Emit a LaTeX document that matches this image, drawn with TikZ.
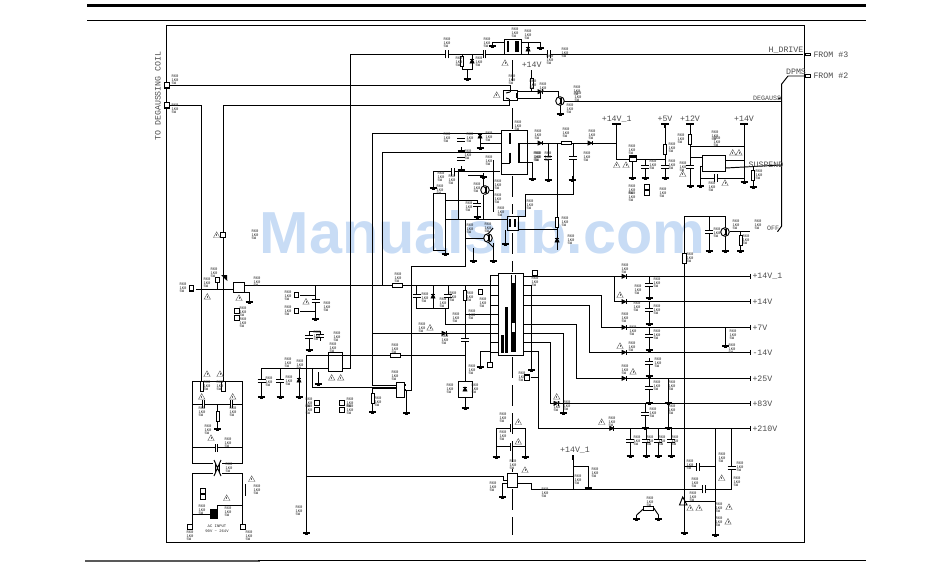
\documentclass[tikz,border=0pt]{standalone}
\usepackage{fontspec}
\setmainfont{Liberation Sans}
\setmonofont{Liberation Mono}
\tikzset{every picture/.style={line width=0.75pt}}
\definecolor{markblue}{RGB}{200,220,245}
\tikzset{
	wire/.style={line width=0.72pt,line join=miter},
	tag/.style={font=\ttfamily\fontsize{2.9}{2.7}\selectfont,align=left,inner sep=0pt,text=black!85},
	lab/.style={font=\ttfamily\fontsize{6.2}{7}\selectfont,inner sep=0pt,text=black!70},
	gndsym/.pic={\draw[line width=0.7pt] (0,4) -- (0,0); \draw[line width=0.9pt] (-3.5,0) -- (3.5,0); \draw[line width=0.5pt] (-1.5,-1.5) -- (1.5,-1.5);},
	capv/.pic={\fill[white] (-3,-1) rectangle (3,1); \draw[line width=0.7pt] (-4,-1.2) -- (4,-1.2) (-4,1.2) -- (4,1.2);},
	caph/.pic={\fill[white] (-1,-3) rectangle (1,3); \draw[line width=0.7pt] (-1.2,-4) -- (-1.2,4) (1.2,-4) -- (1.2,4);},
	diodeh/.pic={\draw[fill=black,line width=0.5pt] (-2,-2) -- (2,0) -- (-2,2) -- cycle; \draw[line width=0.7pt] (2,-2.3) -- (2,2.3);},
	diodev/.pic={\draw[fill=black,line width=0.5pt] (-2,-2) -- (0,2) -- (2,-2) -- cycle; \draw[line width=0.7pt] (-2.3,2) -- (2.3,2);},
	resh/.pic={\draw[fill=white,line width=0.6pt] (-5,-1.7) rectangle (5,1.7);},
	resv/.pic={\draw[fill=white,line width=0.6pt] (-1.7,-5) rectangle (1.7,5);},
	connbox/.pic={\draw[fill=white,line width=0.8pt] (-2.2,-2.7) rectangle (2.2,2.7);},
	warnsym/.pic={\draw[line width=0.35pt,draw=black!60] (-3.2,-2.5) -- (0,3.2) -- (3.2,-2.5) -- cycle; \draw[line width=0.35pt,draw=black!60] (0,1) -- (0,-1);},
	transsym/.pic={\draw[fill=white,line width=0.7pt] (0,0) circle (4.3); \draw[line width=0.9pt] (1,-3) -- (1,3); \draw[line width=0.5pt] (1,-1) -- (-2,-4) (1,1) -- (-2,4);}
}

\begin{document}
\begin{tikzpicture}[x=0.75pt,y=0.75pt,yscale=-1]
	\useasboundingbox (0,0) rectangle (950,572);

	% Text Node
	\draw (482.5,232) node (mark) [text=markblue,font=\bfseries\fontsize{44.5}{46}\selectfont,inner sep=0pt] {Manualslib.com};

	%Page rules
	\fill (87,4) rectangle (866,7);
	\draw [line width=0.6pt] (87,20.3) -- (866,20.3);
	\fill [black!65] (85,559.7) rectangle (260,561.7);
	\draw [line width=0.9pt] (258,560.3) -- (866,560.3);
	%Frame
	\draw [wire] (166.3,25) rectangle (804,542.8);

	%Dashed isolation line
	\draw [wire,dash pattern=on 16pt off 5pt] (512.5,60) -- (512.5,88);
	\draw [wire,dash pattern=on 16pt off 5pt] (512.5,108) -- (512.5,130);
	\draw [wire,dash pattern=on 16pt off 5pt] (512.5,176) -- (512.5,214);
	\draw [wire,dash pattern=on 16pt off 5pt] (512.5,233) -- (512.5,272);
	\draw [wire,dash pattern=on 16pt off 5pt] (512.5,357) -- (512.5,472);
	\draw [wire,dash pattern=on 16pt off 5pt] (512.5,489) -- (512.5,535);

	%Degauss and left supply lines
	\draw [wire] (168,85.3) -- (510,85.3) -- (510,92);
	\draw [wire] (169,105.3) -- (201.7,105.3) -- (201.7,381);
	\draw [wire] (509,99) -- (509,105.3) -- (223.3,105.3) -- (223.3,381);
	\draw [wire] (196,289) -- (233.3,289);
	\draw [wire] (244.3,285.3) -- (490,285.3);
	\draw [wire] (245,292) -- (249,292) -- (249,298);
	%Long risers
	\draw [wire] (342,368) -- (350,368) -- (350,54.4) -- (504,54.4);
	\draw [wire] (396,385) -- (372.8,385) -- (372.8,133.3) -- (501,133.3);
	\draw [wire] (396,388) -- (372.8,388) -- (372.8,408);
	\draw [wire] (382.3,285.3) -- (382.3,152.7) -- (501,152.7);
	\draw [wire] (404,390) -- (411,390) -- (411,266.7) -- (465,266.7) -- (465,219);
	\draw [wire] (372.8,333.3) -- (490,333.3);
	%Startup IC and bulk
	\draw [wire] (306.7,529) -- (306.7,355.3) -- (465,355.3);
	\draw [wire] (261.7,368) -- (328,368);
	\draw [wire] (261.7,368) -- (261.7,393);
	\draw [wire] (280,368) -- (280,393);
	\draw [wire] (299,368) -- (299,393);
	\draw [wire] (312.3,368) -- (312.3,387.3) -- (396,387.3);
	\draw [wire] (318,372) -- (318,380);
	\draw [wire] (309,346) -- (309,331) -- (320,331) -- (320,341);
	\draw [wire] (306.7,476) -- (503,476) -- (503,480) -- (507.3,480);
	\draw [wire] (406.7,390) -- (406.7,409);
	\draw [wire] (300,295) -- (315.7,295);
	\draw [wire] (300,311) -- (315.7,311);
	\draw [wire] (315.7,285.3) -- (315.7,315);
	%AC input section
	\draw [wire] (192,463) -- (192,381) -- (242.7,381) -- (242.7,463) -- (222,463);
	\draw [wire] (192,463) -- (213,463);
	\draw [wire] (192,404) -- (242.7,404);
	\draw [wire] (192,447.7) -- (242.7,447.7);
	\draw [wire] (217.7,404) -- (217.7,425);
	\draw [wire] (192,524) -- (192,473) -- (213,473);
	\draw [wire] (242.7,524) -- (242.7,473) -- (222,473);
	\draw [wire] (192,514.3) -- (212,514.3);
	\draw [wire] (217,514) -- (217,505) -- (242.7,505);
	\draw [wire] (214,460) -- (221,476) (221,460) -- (214,476);
	\draw [wire] (215.7,463) -- (215.7,473) (219.3,463) -- (219.3,473);
	\fill (210,509) rectangle (218,519);
	\draw [wire] (245,484) -- (245,496);
	%Cap rows around the main transformer
	\draw [wire] (416.7,285.3) -- (416.7,308) -- (448,308) -- (448,285.3);
	\draw [wire] (433,285.3) -- (433,308);
	\draw [wire] (465,285.3) -- (465,381);
	\draw [wire] (445,324) -- (490,324);
	\draw [wire] (445,308) -- (445,324);
	\draw [wire] (465,314) -- (498,314);
	\draw [wire] (480,351.7) -- (490,351.7);
	\draw [wire] (480,351.7) -- (480,363);
	\draw [wire] (490,351.7) -- (490,362);
	\draw [wire] (458,381) rectangle (472,397.3);
	\draw [wire] (465,397.3) -- (465,404);
	%Main transformer
	\draw [wire] (490,275) -- (490,351.7);
	\draw [wire] (490,275) -- (498.3,275);
	\draw [wire] (498.3,273.3) rectangle (523.3,355);
	\draw [wire] (511.7,275) -- (511.7,352) (515,275) -- (515,352);
	\draw [line width=1.9pt] (513.6,283) -- (513.6,323);
	\draw [line width=1.9pt] (513.6,332) -- (513.6,352);
	\draw [line width=1.9pt] (506.7,307) -- (506.7,353);
	\draw [line width=1.9pt] (502.5,335) -- (502.5,353);
	\foreach \y in {285,295,305,314,324,333,342,352} \draw [line width=0.6pt] (490,\y) -- (498.3,\y);
	\draw [wire] (523.3,285) -- (531.7,285) -- (531.7,366);
	%Secondary rails
	\draw [wire] (523.3,276.3) -- (750,276.3);
	\draw [wire] (614,276.3) -- (614,301.7) -- (750,301.7);
	\draw [wire] (523.3,295) -- (601.7,295) -- (601.7,327.3) -- (750,327.3);
	\draw [wire] (523.3,305) -- (589,305) -- (589,352.3) -- (750,352.3);
	\draw [wire] (523.3,324.3) -- (576.7,324.3) -- (576.7,378.3) -- (750,378.3);
	\draw [wire] (523.3,342.7) -- (550.7,342.7) -- (550.7,403.3) -- (750,403.3);
	\draw [wire] (523.3,333.3) -- (563.3,333.3) -- (563.3,409);
	\draw [wire] (523.3,351.7) -- (538.3,351.7) -- (538.3,428.3) -- (750,428.3);
	\draw [wire] (530.7,377.7) -- (538.3,377.7);
	\draw [wire] (535,275) -- (535,276.3);
	\foreach \x/\y in {750/276.3,750/301.7,750/327.3,750/352.3,750/378.3,750/403.3,750/428.3} \draw [line width=0.6pt] (\x,\y-2.5) -- (\x,\y+2.5);
	\fill (744,377.5) rectangle (750,379);
	\foreach \x/\yy/\ye in {649/276.3/294,649/301.7/320,649/327.3/346,649/358/372,649/378.3/399,668/378.3/399,645/403.3/424,668/403.3/424,630/428.3/452,646/428.3/452,658/428.3/452,671/428.3/452} \draw [wire] (\x,\yy) -- (\x,\ye);
	\draw [wire] (725.7,327.3) -- (725.7,342);
	%Output right column
	\draw [wire] (684.3,216.7) -- (684.3,529);
	\draw [wire] (715.7,428.3) -- (715.7,531);
	\draw [wire] (731.7,428.3) -- (731.7,489.3) -- (531.7,489.3) -- (531.7,483) -- (517.7,483);
	\draw [wire] (684.3,466.7) -- (715.7,466.7);
	\draw [wire] (684.3,501.7) -- (715.7,501.7);
	\draw [wire] (679.5,505) -- (682.7,497) -- (687,505) -- cycle;
	%+14V lower
	\draw [wire] (517.7,476) -- (573.3,476);
	\draw [line width=1.5pt] (573.3,455) -- (573.3,460);
	\draw [wire] (573.3,460) -- (573.3,489.3);
	\draw [wire] (573.3,466) -- (588,466) -- (588,484);
	\draw [wire] (507.3,473.3) rectangle (517.7,487.3);
	\draw [wire] (502.7,483) -- (507.3,483) (502.7,483) -- (502.7,493);
	\draw [wire] (496,453) -- (496,428.3) -- (525,428.3) -- (525,453);
	\draw [wire] (496,446.7) -- (525,446.7);
	\draw [wire] (636.7,515) -- (644,508.3) -- (654,508.3) -- (658.5,515);
	%H drive
	\draw [wire] (504,39) rectangle (521,54.4);
	\draw [line width=1.3pt] (508.3,41) -- (508.3,52);
	\draw [line width=1.3pt] (515.7,41) -- (515.7,52) (518.3,41) -- (518.3,52);
	\draw [wire] (504,42) -- (492,42);
	\draw [wire] (521,42.7) -- (540,42.7) -- (540,45);
	\draw [wire] (528,42.7) -- (528,54.4);
	\draw [wire] (521,54.4) -- (803,54.4);
	\draw [wire] (462,54.4) -- (462,69) -- (472,69) -- (472,54.4);
	\draw [wire] (467,69) -- (467,75);
	\draw [line width=0.6pt] (805,53) rectangle (810,55.6);
	\draw [line width=0.6pt] (805,74.7) rectangle (810,77.3);
	\draw [wire] (788,76) -- (804,76) (788,76) -- (781.7,84) -- (781.7,226) -- (777.5,231.7);
	%Opto and degauss driver
	\draw [wire] (503,90) rectangle (517,100.7);
	\draw [line width=1.3pt] (517,93) -- (517,98);
	\draw [wire] (506,93) -- (510,92) (506,98) -- (509,99);
	\draw [wire] (531.7,70) -- (531.7,91.7);
	\draw [wire] (517,91.7) -- (558,91.7) -- (558,97);
	\draw [wire] (518,98) -- (540,98) -- (540,91.7);
	\draw [wire] (564,101) -- (781.7,101);
	\draw [wire] (778,99) -- (781.7,97.5);
	\draw [wire] (560,105) -- (560,110);
	%Standby transformer
	\draw [wire] (501,130) rectangle (527,174);
	\draw [line width=1.9pt] (510,133) -- (510,144) (510,152.7) -- (510,163);
	\draw [line width=1.9pt] (519,143) -- (519,162.5);
	\draw [wire] (501,143.3) -- (480,143.3) -- (480,145);
	\draw [wire] (480,133.3) -- (480,143);
	\draw [wire] (501,163) -- (510,163);
	\draw [wire] (519,143) -- (616.7,143) -- (616.7,124);
	\draw [wire] (616.7,143) -- (616.7,159.3) -- (629,159.3);
	\draw [wire] (519,162.5) -- (532,162.5) -- (532,175);
	\draw [wire] (548,143) -- (548,176);
	\draw [wire] (573,143) -- (573,194) -- (525,194) -- (525,216.7) -- (518,216.7);
	\draw [wire] (557,143) -- (557,250);
	\draw [wire] (518,229) -- (557,229);
	\draw [line width=1.3pt] (612,124) -- (621,124);
	%Regulators
	\draw [wire] (629,155) rectangle (636.7,161.7);
	\draw [line width=1.6pt] (630,157) -- (636,157);
	\draw [wire] (636.7,159.3) -- (665,159.3);
	\draw [wire] (632,161.7) -- (632,174);
	\draw [wire] (645,159.3) -- (645,174);
	\draw [wire] (665,124) -- (665,174);
	\draw [line width=1.5pt] (665,124) -- (665,128);
	\draw [line width=1.3pt] (661,124) -- (669,124);
	\draw [wire] (690,124) -- (690,182);
	\draw [line width=1.3pt] (686,124) -- (694,124);
	\draw [wire] (690,146) -- (744,146);
	\draw [wire] (690,157) -- (702.3,157);
	\draw [wire] (702.3,155.7) rectangle (725.7,171.7);
	\draw [wire] (744,124) -- (744,178) -- (700.7,178) -- (700.7,166) -- (702.3,166);
	\draw [wire] (700.7,178) -- (700.7,182);
	\draw [line width=1.3pt] (740,124) -- (748,124);
	\draw [wire] (725.7,168) -- (781,165);
	\draw [wire] (725.7,160) -- (744,160);
	\draw [wire] (753,167) -- (753,183);
	%OFF branch
	\draw [wire] (684.3,216.7) -- (725,216.7) -- (725,228);
	\draw [wire] (709,216.7) -- (709,247);
	\draw [wire] (725,236) -- (725,247);
	\draw [wire] (730,231.7) -- (750,231.7);
	\draw [wire] (740.7,231.7) -- (740.7,247);
	%Flyback control block
	\draw [wire] (433,171.7) -- (433,184);
	\draw [wire] (433,171.7) -- (500,171.7);
	\draw [wire] (458,171.7) -- (458,219);
	\draw [wire] (433,193) rectangle (445,250);
	\draw [wire] (445,200) -- (477,200) -- (477,213);
	\draw [wire] (446,219) -- (508,219);
	\draw [wire] (465,238) -- (484,238);
	\draw [wire] (468,175) -- (483,175) -- (483,186);
	\draw [wire] (483,195) -- (483,219);
	\draw [wire] (490,190) -- (493,190);
	\draw [wire] (493,160) -- (493,212);
	\draw [wire] (473,248) -- (473,257);
	\draw [wire] (493,243) -- (493,257);
	\draw [wire] (507,216.7) rectangle (518.3,230);
	\draw [line width=1.3pt] (510,219) -- (510,227) (515,219) -- (515,227);
	\draw [wire] (505,230) -- (505,240);
	\draw [wire] (488,234) -- (493,228) (488,242) -- (493,247);

	%Chips
	\draw [wire] (328,352.7) rectangle (342,371);
	\draw [wire] (396,382.7) rectangle (404,397);
	\draw [line width=1.6pt] (404,385) -- (406,385) (404,390) -- (406,390);
	\draw [wire] (233.3,282.3) rectangle (244.3,292.7);
	\fill (227.3,281) -- (221,275) -- (227,275) -- cycle;

	% Caps, placed on the wires
	\foreach \x/\y in {261.7/381,280/381,315.7/301,309/337,320/336,416.7/296,448/296,465/340,461/140,461/159,645/167,665/167,690/167,649/285,649/310,649/336,649/363,649/388,645/414,630/441,646/441,658/441,671/441,709/232,731.7/468,548/158,573/158,477/205}
		\pic at (\x,\y) {capv};
	\foreach \x/\y in {447/54.4,484.7/54.4,549/54.4,203.5/404,231.7/404,216.7/447.7,453/171.7,511.7/428.3,511.7/446.7,716/178,698/466.7,704/489.3}
		\pic at (\x,\y) {caph};
	\foreach \x/\y in {397.7/285.3,395/355.3,566/143,648/508.3}
		\pic at (\x,\y) {resh};
	\foreach \x/\y in {217.7/416,531.7/83,690/139,665/149,201.7/386,223.3/386,372.8/398,684.3/258,753/175,740.7/240,557/222,465/295,462/61}
		\pic at (\x,\y) {resv};
	\foreach \x/\y in {444/333.3,540/91.7,540/143,590/143,624/276.3,624/301.7,624/327.3,624/352.3,624/378.3,556/403.3,611.7/428.3}
		\pic at (\x,\y) {diodeh};
	\foreach \x/\y in {472/61,480/136,528/49,299/380,433/296,465/389,557/240}
		\pic at (\x,\y) {diodev};
	\foreach \x/\y in {560/101,485/190,725/232,488/238}
		\pic at (\x,\y) {transsym};
	% Grounds
	\foreach \x/\y in {467/79,492/46,540/48,560/114,480/148,461/151,461/170,433/188,483/177,477/217,445/254,473/261,493/261,505/244,532/179,548/180,572/180,632/178,645/178,665/178,690/186,700.7/186,744/182,753/187,709/251,725/251,740.7/251,684.3/533,715.7/535,649/298,649/324,649/350,649/376,649/403,668/403,645/428,668/428,630/456,646/456,658/456,671/456,563.3/413,531.7/370,480/367,465/408,249/302,315.7/319,309/350,318/384,261.7/397,280/397,299/397,372.8/412,406.7/413,217.7/429,306.7/533,496/457,525/457,502.7/497,588/488,725.7/346,636.7/519,658.5/519}
		\pic at (\x,\y) {gndsym};
	% Connectors
	\foreach \x/\y in {167/85.3,167/105.3,223/235,191.7/288.3,217.7/280,296.7/295,296.7/311,237/311,237/318,480.7/292,490/365,535/273,527/377.7,647/187,647/193,190/527,243/527,203/491,203/497,317/403,317/410,342/403,342/410}
		\pic at (\x,\y) {connbox};
	\draw [wire] (217.7,282.5) -- (217.7,289);
	% Warning marks
	\foreach \x/\y in {216.7/235,496.7/95,505/63,616.7/165,626/165,682.7/174,725/183,732.7/152.7,739/152.7,207.3/296.7,239/298,306/301.7,207/374,220/374,201.7/396.7,232.7/396.7,211/438,251.7/479,226.7/498,331.7/377.7,340.7/377.7,430/327.7,620/295,620/346,633/371.7,556.7/396.7,601.7/422,518.3/422,518.3/441.7,525/470,721.7/478,690/508,699/508,729/507,728/521.7}
		\pic at (\x,\y) {warnsym};

	% Small part labels
	\foreach \x/\y in {447/43,459/62,479/62,487/43,528/35,550/60,565/53,515/33,512/80,533/85,543/88,578/97,570/109,518/126,447/138,470/138,489/137,468/155,489/161,441/177,452/180,440/190,477/188,498/185,498/199,469/207,470/229,488/228,501/212,530/205,537/157,538/135,538/157,548/157,566/133,592/135,587/157,632/150,653/165,672/165,683/167,681/139,717/142,715/136,712/187,759/175,672/148,565/222,571/240,577/91,717/233,736/225,758/225,746/240,690/258,632/190,632/197,663/193,183/288,207/283,214/273,257/282,288/296,288/311,327/307,243/312,243/323,317/336,337/337,333/348,288/363,300/365,269/382,289/381,207/386,220/386,202/412,233/412,208/430,228/443,229/468,257/490,202/510,228/512,190/536,249/536,299/511,309/403,309/410,350/403,350/410,395/376,378/402,398/278,395/349,422/328,445/340,425/298,443/303,453/297,470/297,456/318,472/315,483/303,472/370,450/389,475/389,175/80,175/109,255/235,625/269,657/283,638/290,637/307,657/310,625/318,633/331,657/335,632/347,658/363,625/370,657/386,672/386,557/407,567/406,653/413,672/410,612/422,637/441,650/441,662/441,675/441,503/418,503/436,535/282,522/377,513/465,493/487,578/480,595/473,545/493,650/502,722/458,740/467,690/465,695/483,737/482,693/497,719/508,719/522,733/335,732/349}
		\node[tag] (t\x-\y) at (\x,\y) {R60\\1K0\\5W};

	% Text Node
	\draw (158,96) node (coil) [lab,rotate=90] {TO DEGAUSSING COIL};
	\draw (786,50) node (hdrive) [lab] {H\_DRIVE};
	\draw (813,54.4) node (from3) [lab,anchor=west] {FROM \#3};
	\draw (796,71.5) node (dpms) [lab] {DPMS};
	\draw (813,76) node (from2) [lab,anchor=west] {FROM \#2};
	\draw (767,98) node (dfgauss) [lab,font=\ttfamily\fontsize{5}{6}\selectfont] {DEGAUSS};
	\draw (766,165) node (suspend) [lab] {SUSPEND};
	\draw (773,228) node (off) [lab,font=\ttfamily\fontsize{5}{6}\selectfont] {OFF};
	\draw (616.7,119) node (v14a) [lab] {+14V\_1};
	\draw (665,119) node (v5) [lab] {+5V};
	\draw (690,119) node (v12) [lab] {+12V};
	\draw (744,119) node (v14b) [lab] {+14V};
	\draw (531.7,65) node (v14c) [lab] {+14V};
	\draw (575,450) node (v14d) [lab] {+14V\_1};
	\draw (752,276.3) node (r1) [lab,anchor=west] {+14V\_1};
	\draw (752,301.7) node (r2) [lab,anchor=west] {+14V};
	\draw (752,327.3) node (r3) [lab,anchor=west] {+7V};
	\draw (752,352.3) node (r4) [lab,anchor=west] {-14V};
	\draw (752,378.3) node (r5) [lab,anchor=west] {+25V};
	\draw (752,403.3) node (r6) [lab,anchor=west] {+83V};
	\draw (752,428.3) node (r7) [lab,anchor=west] {+210V};
	\draw (217,529) node (acin) [tag,align=center] {AC INPUT\\[1pt]90V \textasciitilde\ 264V};
\end{tikzpicture}
\end{document}
